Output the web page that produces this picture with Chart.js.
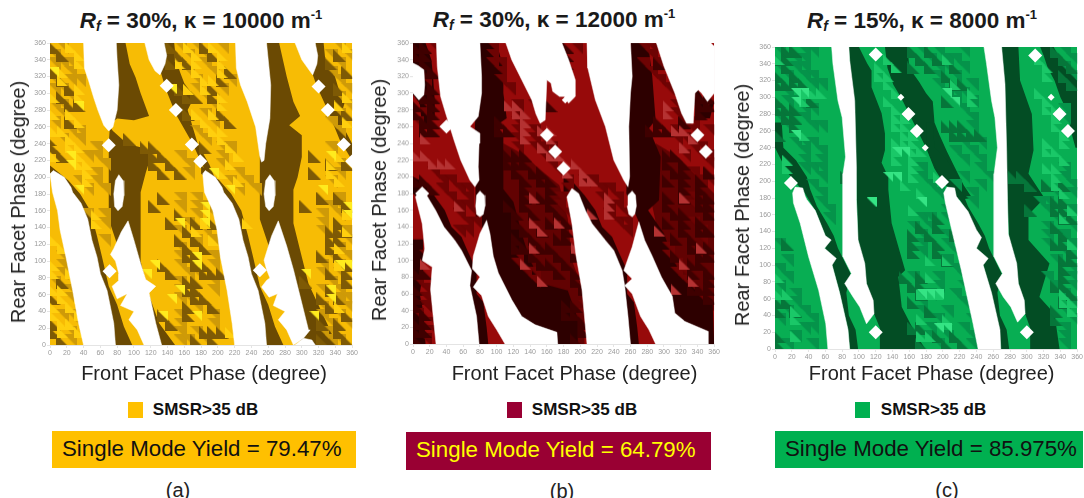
<!DOCTYPE html>
<html>
<head>
<meta charset="utf-8">
<script src="https://cdn.jsdelivr.net/npm/chart.js@4"></script>
<style>
    html, body { margin: 0; padding: 0; background: #fff; overflow: hidden; }
    body { width: 1084px; height: 498px; position: relative; font-family: "Liberation Sans", Arial, sans-serif; color: #222; }
    canvas { position: absolute; filter: blur(0.55px); }
    .txt { position: absolute; white-space: nowrap; line-height: 1; }
    .title { font-weight: bold; font-size: 22.5px; color: #1a1a1a; }
    .title sub { font-size: 14px; vertical-align: -3px; line-height: 0; font-style: italic; }
    .title sup { font-size: 13px; vertical-align: 9px; line-height: 0; }
    .axis { font-size: 20px; }
    .rot { transform: translate(-50%, -50%) rotate(-90deg); }
    .mid { transform: translate(-50%, -50%); }
    .swatch { position: absolute; width: 15px; height: 16px; }
    .legend { font-weight: bold; font-size: 17px; color: #111; }
    .box { position: absolute; box-sizing: border-box; font-size: 22.3px; line-height: 36px; padding-left: 10px; white-space: nowrap; }
</style>
</head>
<body>
<script>
// Phase axes
const phaseMin = 0;
const phaseMax = 360;
const phaseStep = 20;

// ---- (a) Rf = 30%, kappa = 10000 ----
const aGaps = [
    [[40,360],[41,330],[46,315],[52,295],[57,280],[64,262],[70,255],[75,260],[80,280],[82,310],[80,340],[79,360]],
    [[113,360],[118,340],[125,327],[131,322],[137,335],[139,345],[136,360]],
    [[221,360],[222,330],[227,310],[235,290],[245,260],[250,225],[252,218],[255,220],[257,240],[262,270],[263,310],[258,360]],
    [[292,360],[300,340],[310,326],[313,322],[318,335],[319,345],[316,360]],
    [[0,204],[4,208],[17,200],[25,188],[27,182],[37,169],[45,150],[50,125],[56,105],[60,85],[68,65],[76,26],[78,0],[40,0],[34,26],[27,65],[19,105],[12,137],[9,160],[3,182]],
    [[93,148],[85,135],[76,115],[72,108],[78,100],[82,85],[82,77],[74,70],[80,55],[92,61],[84,47],[100,40],[94,30],[104,18],[112,0],[133,0],[126,26],[120,53],[118,62],[126,70],[114,78],[108,97],[100,125]],
    [[182,204],[185,208],[197,200],[205,188],[207,182],[217,169],[225,150],[230,125],[236,105],[240,85],[248,65],[256,26],[258,0],[220,0],[217,26],[211,65],[203,105],[199,137],[194,160],[184,182]],
    [[272,148],[264,130],[255,101],[258,90],[262,80],[258,77],[252,69],[261,57],[271,61],[266,47],[280,40],[272,30],[282,18],[290,0],[302,8],[310,18],[308,18],[300,50],[290,90],[282,118]],
    [[292,0],[302,8],[312,6],[316,0]],
    [[82,203],[87,196],[88,178],[86,165],[81,160],[77,165],[76,180],[78,196]],
    [[262,203],[267,196],[268,178],[266,165],[261,160],[257,165],[255,180],[257,196]]
];
const aDiamonds = [[70,238],[139,309],[150,280],[169,239],[179,219],[71,88],[250,89],[320,308],[331,280],[350,239],[360,219]];
const aSmallDiamonds = [];
const aDarkBands = [
    [[78,360],[90,360],[95,335],[102,319],[108,300],[118,273],[100,268],[80,270],[70,262],[75,255],[92,240],[110,235],[120,224],[114,205],[108,182],[108,100],[116,65],[130,26],[149,0],[120,0],[70,150],[70,240]],
    [[258,360],[273,360],[282,320],[290,290],[298,273],[285,262],[300,250],[300,224],[295,200],[290,185],[290,145],[298,113],[308,73],[330,26],[342,0],[300,0],[250,150],[250,260]],
    [[136,360],[148,360],[150,340],[155,325],[160,312],[172,296],[164,280],[170,260],[176,240],[190,215],[200,190],[186,205],[170,240],[150,275],[138,305],[132,325]],
    [[316,360],[326,360],[328,340],[338,325],[344,305],[352,292],[347,275],[352,255],[360,240],[360,220],[345,245],[330,282],[318,308],[312,325]],
    [[0,214],[10,206],[22,196],[36,180],[48,160],[56,130],[62,105],[70,70],[80,48],[88,22],[98,0],[78,0],[60,70],[40,150],[20,190],[0,204]],
    [[180,214],[190,206],[202,196],[216,180],[228,160],[236,130],[242,105],[250,70],[260,48],[268,22],[278,0],[258,0],[240,70],[220,150],[200,190],[180,204]]
];
const aShadeBands = [];
const aDeepTris = [[355,[5,145,185]],[345,[15,155,195,345]],[335,[145,165,335]],[325,[5,215,355]],[315,[15,205]],[305,[25,155,195,345]],[295,[15,165,175,195]],[285,[25,35]],[275,[165,205,355]],[265,[25,215]],[245,[0,95]],[235,[5,115,125,185]],[225,[15,125,135,315]],[215,[125,145,335,355]],[205,[135,155,315]],[175,[135,325,345]],[165,[125,305,355]],[155,[155,215]],[145,[145,175,195,345]],[135,[165,335,345,355]],[125,[155,175,335,345]],[115,[165,185,335]],[105,[165,175,325,345]],[95,[135,175,185,355]],[85,[145,185,195,205,335,355]],[75,[15,165,175,305,355]],[65,[165,175,335]],[55,[5,175,185,325,345]],[45,[165,195,335]],[35,[135,165,355]],[25,[5,145,325,345]],[15,[5,185,195,205,345]],[5,[15,175,195,325,355]]];
const aMidTris = [[355,[15,155,175,205,345]],[345,[5,165,185,335,355]],[335,[5,15,25,185,345]],[325,[25,165,195,335]],[315,[5,25,35,175,215,345]],[305,[5,15,175,205,355]],[295,[25,185,345]],[285,[5,15,195,355]],[275,[15,185,345]],[265,[5,195,335]],[255,[25,35,175,345]],[245,[15,35,185]],[235,[55,205,215,335]],[225,[45,55,155,205]],[215,[65,165,205,345]],[205,[55,165,225,345]],[195,[35,55,215,235,335]],[185,[45,65,225,245]],[175,[155,175,195,345]],[165,[155,175,185,335,345]],[155,[45,65,175,195,325,345]],[145,[65,165,205,325]],[135,[155,185,325,355]],[125,[65,175,195,355]],[115,[155,205,345]],[105,[15,155,195,335,355]],[95,[15,155,195,325,345]],[85,[15,165,175,325,345]],[75,[5,155,195,335]],[65,[25,155,195,325,345]],[55,[25,155,165,345,355]],[45,[35,175,325,355]],[35,[15,25,155,195,325,345]],[25,[35,155,195,335,355]],[15,[25,155,175,325,335]],[5,[25,155,165,185,335,345]]];
const aLightTris = [[355,[25,165,195,355]],[345,[35,175,205]],[335,[35,155,175,205]],[325,[15,175,205]],[315,[15,185,195]],[305,[35,165,185]],[295,[5,35,205,355]],[285,[205,345]],[275,[5,25,175,195]],[265,[35,185,355]],[255,[5,15,195,205]],[245,[25,205]],[235,[25,35,215]],[225,[5,35,225,345]],[215,[35,45,215,335]],[205,[45,205,335]],[195,[45,225,345]],[155,[55,205,355]],[145,[55,185,235]],[135,[175,355]],[125,[5,195]],[115,[15,345]],[95,[5,345]],[85,[5,25]],[65,[5,15]],[55,[15,35]],[45,[5,25,345]],[35,[5,35]],[25,[15,25]],[15,[15,35,215]]];
const aBrightTris = [[325,[5]],[305,[145]],[285,[35]],[225,[25,335]],[215,[25]],[205,[195]],[185,[35,215,325]],[165,[185,355]],[155,[185,355]],[145,[155,185]],[105,[175]],[95,[125,175,345,355]],[85,[115,305]],[65,[155,335]],[55,[145,335]],[35,[135,175,315]]];

// ---- (b) Rf = 30%, kappa = 12000 ----
const bGaps = [
    [[28,360],[29,332],[33,296],[39,276],[49,244],[57,220],[68,196],[74,188],[79,196],[78,212],[79,240],[80,252],[68,260],[78,272],[82,300],[82,320],[80,360]],
    [[111,360],[118,340],[130,316],[142,292],[147,275],[152,264],[158,268],[160,316],[165,312],[167,302],[175,296],[181,296],[186,288],[194,296],[194,316],[186,340],[178,360]],
    [[208,360],[209,330],[218,292],[230,260],[240,220],[252,196],[257,188],[259,200],[258,260],[260,300],[262,320],[260,360]],
    [[291,360],[300,332],[313,300],[321,276],[327,264],[335,264],[337,300],[341,304],[345,300],[352,290],[360,300],[360,356],[356,360]],
    [[0,336],[6,333],[13,328],[14,310],[13,298],[7,292],[0,300]],
    [[3,176],[8,183],[15,180],[27,160],[37,140],[50,124],[58,112],[70,88],[68,70],[76,33],[79,0],[27.5,0],[25,25],[21,65],[23,92],[11,100],[14,114],[11,144],[7,160]],
    [[88,148],[80,132],[72,105],[71,90],[80,80],[72,68],[82,58],[90,33],[100,17],[110,0],[173,0],[172,14],[146,23],[130,33],[118,53],[102,85],[96,105],[92,132]],
    [[80,183],[85,178],[86,165],[84,155],[80,152],[76,155],[75,165],[76,178]],
    [[262,183],[266,178],[267,165],[265,155],[262,152],[258,155],[256,165],[257,178]],
    [[184,176],[190,186],[198,180],[206,160],[214,144],[230,124],[240,112],[250,88],[253,70],[257,33],[260,0],[208,0],[202,65],[195,105],[190,144]],
    [[270,146],[262,116],[252,88],[262,78],[253,70],[262,60],[272,33],[282,17],[290,0],[353,0],[353,15],[325,27],[313,37],[310,57],[297,80],[286,105],[277,124]]
];
const bDiamonds = [[40,260],[160,250],[170,230],[180,210],[340,250],[350,230],[11,180]];
const bSmallDiamonds = [[182,292]];
const bDarkBands = [
    [[0,360],[15,360],[22,340],[24,320],[26,290],[26,272],[15,262],[10,270],[8,288],[0,298]],
    [[78,360],[100,360],[108,330],[108,300],[112,270],[100,262],[108,250],[108,215],[108,185],[120,170],[130,132],[140,100],[155,72],[185,64],[197,30],[197,0],[172,0],[120,0],[90,130],[75,150],[74,260]],
    [[260,360],[281,360],[286,320],[290,268],[282,258],[296,224],[294,172],[281,160],[300,132],[310,105],[321,80],[337,65],[358,53],[360,0],[300,0],[270,146],[255,180],[258,300]],
    [[0,125],[12,125],[12,85],[8,60],[12,40],[15,0],[0,0]],
    [[0,200],[10,195],[25,178],[38,160],[46,140],[58,128],[65,112],[76,88],[76,60],[84,50],[88,20],[90,0],[78,0],[60,70],[40,130],[20,160],[0,180]],
    [[180,200],[190,195],[205,178],[218,160],[226,140],[238,128],[245,112],[256,88],[256,60],[264,50],[268,20],[270,0],[258,0],[240,70],[220,130],[200,160],[180,180]],
    [[150,360],[165,360],[165,340],[160,320],[150,310],[150,300],[148,290]],
    [[337,310],[345,296],[352,285],[360,290],[355,270],[340,270]]
];
const bShadeBands = [
    [[108,240],[135,225],[150,210],[175,190],[185,150],[190,100],[205,60],[205,0],[150,0],[120,60],[105,130]],
    [[290,240],[315,225],[330,210],[350,190],[360,180],[360,40],[330,50],[300,100],[285,170]]
];
const bDeepTris = [[355,[5,15,185]],[345,[5,15,175,185]],[335,[15,175,185,295]],[325,[15,25,175]],[305,[15,25]],[295,[15,25,335,345,355]],[285,[5,25,165,345,355]],[275,[5,25,345]],[265,[15,25,105,295,325]],[255,[15,25,105,115,285,295,305]],[225,[115,125,135,305,315]],[215,[115,125,135,305,325]],[205,[125,145,155,315,325,355]],[195,[5,15,135,155,165,305,325,345]],[185,[15,25,135,165,325,345]],[175,[135,155,165,305,325,345,355]],[165,[115,135,165,305,345,355]],[155,[125,145,175,315,325,355]],[145,[125,165,185,305,325,345]],[135,[135,155,185,325,345,355]],[125,[125,145,175,185,315,335]],[115,[125,135,155,165,335,345,355]],[105,[145,175,195,315,345,355]],[95,[155,165,185,335,345]],[85,[5,15,175,195,335,355]],[75,[195,355]],[65,[5,205,335,345,355]],[55,[5,355]],[45,[5,185,195]],[35,[15,185,195]],[25,[5,15,205]],[15,[5,15,205]],[5,[5,195]]];
const bMidTris = [[355,[25,95,195,275,285]],[345,[95,285]],[335,[95,105,275,295]],[325,[105,285]],[315,[15,105,295]],[305,[115,305]],[285,[15,125,145,315,335]],[275,[15,125,315,325]],[265,[5,125,325,335]],[255,[125,145,315,335,355]],[245,[125,145,155,315,325]],[235,[125,145,155,165,335,345]],[225,[155,165,325,345,355]],[215,[165,355]],[205,[25,175,335]],[195,[35,45,185,205,215,345,355]],[185,[35,55,65,185,225,235]],[175,[45,65,175,185,225,245,335]],[165,[55,65,175,235,245,335]],[155,[55,75,185,235,255]],[145,[65,75,195,245,255,335]],[135,[55,65,195,255,345]],[125,[205,345]],[115,[205,305]],[105,[15,125,205,305]],[95,[125,205,315]],[85,[135,145,205,315,325]],[75,[5,145,215,325]],[65,[15,215]],[55,[15,215,345]],[45,[15,205]],[35,[5,205]],[25,[25,215]],[15,[25]],[5,[15]]];
const bLightTris = [[285,[115,125,305]],[275,[125,135,305]],[265,[135]],[255,[135,155,165,315,325]],[245,[15,135,165,335]],[235,[155,325]],[225,[5,15,165,175]],[215,[25,35,45,185,195]],[205,[185,205]],[195,[205,215]],[175,[145,235,325]],[165,[55,235]],[155,[215,235]],[145,[145,175]],[135,[155,295]],[115,[145,195,345]],[95,[15,135,325]],[75,[155,285,335]],[65,[315]],[55,[285]]];
const bBrightTris = [];

// ---- (c) Rf = 15%, kappa = 8000 ----
const cGaps = [
    [[67.5,360],[69,340],[75,296],[80,276],[84,229],[81,209],[81,110],[91,90],[83,78],[93,62],[101,50],[109,30],[118,42],[117,58],[109,78],[107,102],[99,130],[97,178],[97,217],[95,296],[89,344],[88,360]],
    [[249,360],[252,340],[258,296],[262,276],[265,240],[261,209],[261,110],[271,90],[263,78],[272,62],[281,50],[289,32],[298,42],[297,58],[290,78],[288,102],[278,137],[277,178],[276,237],[274,316],[270,360]],
    [[21,186],[24,193],[33,192],[36,182],[38,178],[48,165],[60,135],[67,130],[59,120],[73,108],[68,100],[77,67],[87,23],[89,0],[63,0],[60.5,30],[52,70],[40,110],[30,150],[22,174]],
    [[201,186],[205,193],[214,192],[216,182],[219,178],[230,164],[240,142],[246,133],[240,120],[254,108],[248,100],[258,67],[268,23],[269,0],[242,0],[236,30],[222,94],[211,140],[203,174]]
];
const cDiamonds = [[19,198],[120,351],[310,350],[159,280],[169,260],[199,199],[339,280],[349,260],[120,20],[300,20]];
const cSmallDiamonds = [[150,300],[179,240],[329,300]];
const cDarkBands = [
    [[88,360],[100,360],[110,340],[115,332],[115,312],[127,281],[131,257],[131,237],[127,222],[135,205],[135,190],[139,150],[155,94],[147,86],[151,50],[167,19],[179,0],[125,0],[125,25],[118,42],[109,78],[99,130],[97,200]],
    [[131,360],[158,360],[160,335],[172,318],[180,305],[188,295],[190,270],[196,255],[205,235],[215,215],[225,195],[235,180],[219,178],[200,199],[190,215],[180,240],[170,260],[160,280],[150,300],[141,315],[134,335]],
    [[0,270],[8,270],[10,240],[25,225],[38,205],[42,190],[50,170],[62,150],[70,135],[75,120],[90,90],[85,67],[88,40],[96,23],[99,0],[89,0],[87,23],[77,67],[68,100],[60,120],[60,135],[48,165],[36,185],[15,210],[0,240]],
    [[270,360],[290,360],[292,320],[306,280],[308,237],[302,209],[321,180],[302,160],[302,130],[327,102],[315,62],[333,42],[339,0],[304,0],[304,25],[298,42],[290,78],[279,130],[277,178]],
    [[316,360],[320,350],[325,335],[333,320],[340,300],[350,280],[352,262],[358,240],[360,240],[360,320],[345,340],[340,345],[332,360]],
    [[180,270],[188,270],[190,240],[205,225],[218,205],[222,190],[230,170],[242,150],[250,135],[255,120],[270,90],[265,67],[268,40],[276,23],[279,0],[269,0],[267,23],[257,67],[248,100],[240,120],[240,135],[228,165],[216,185],[195,210],[180,240]]
];
const cShadeBands = [];
const cDeepTris = [[355,[15,25,165,185,335]],[345,[5,15,175,195,345]],[335,[15,165,185,215,355]],[325,[5,25,205,345]],[315,[5,15,25,35,215,225,355]],[295,[5,45,205]],[285,[5,15,25]],[275,[15,25]],[265,[25,205,215,225]],[255,[5,215,225,235,245]],[205,[85,285,295]],[195,[305,325,345]],[175,[335,345]],[165,[305,335,345]],[155,[195,345,355]],[145,[175,195,335]],[135,[165,185,215,345]],[125,[15,165,195,335,345]],[115,[165,195,355]],[105,[205,345,355]],[95,[345]],[85,[155,175,345]],[75,[165,175,335,345]],[65,[175,355]],[55,[5,15,165,345]],[45,[5,25,185,335]],[35,[335]],[25,[165,175]],[15,[5,195,215]],[5,[5,175,205,225]]];
const cMidTris = [[355,[5,35,45,175,195,225,345]],[345,[25,35,185,205,215,355]],[335,[5,25,35,195,205,225,345]],[325,[15,35,45,195,215,355]],[315,[45,55,195,235]],[305,[15,25,205,215,225]],[295,[15,25,215,235]],[285,[35,45,225,345]],[275,[5,35,235,345]],[265,[15,45,55,235]],[245,[25,35,45,225,245]],[235,[35,55,215,235]],[225,[35,55,225,245]],[215,[35,45,55,175,245,345]],[205,[55,175,225,255,345]],[195,[45,185,215,245,355]],[185,[55,195,235,335,355]],[175,[55,205,235,315,325]],[165,[65,205,325,355]],[155,[65,175,185,205,335]],[145,[165,185,215,325,355]],[135,[175,205,325,345]],[125,[5,175,205,325,355]],[115,[175,215,345]],[105,[15,205,225,335]],[95,[5,215,225,355]],[85,[15,165,195,225,325,355]],[75,[5,195,225,335,355]],[65,[25,185,215,345]],[55,[25,175,225,355]],[45,[15,35,175,205,345]],[35,[5,45,195,235,355]],[25,[35,45,185,225,345]],[15,[25,185,205,235,345]],[5,[15,45,195,235,345]]];
const cLightTris = [[345,[5,135,205,315]],[335,[125,145,325]],[325,[125,135,325]],[315,[135,215]],[305,[35,45,55,145,235,315]],[295,[35,135,235,325]],[285,[145,325,335]],[275,[145,155,335]],[265,[145,155,335]],[255,[35,155,165,345]],[245,[145,155,165,325,345]],[235,[145,165,175,325,335]],[225,[15,145,165,345]],[215,[15,165,325,335]],[205,[165,195,335]],[195,[155,335]],[185,[175,345]],[165,[165,355]],[155,[215,345]],[125,[355]],[105,[205,185]],[85,[5,185]],[65,[5,15,175,185,195,345]],[55,[345,355]],[45,[25,355]],[35,[25,175,205]],[15,[25,175,185]]];
const cBrightTris = [[305,[25,35,205]],[295,[25,215]],[255,[25]],[235,[145,155]],[205,[135,145]],[175,[115,175]],[65,[175,185,195]],[25,[195,205]]];

// Panel colours and page layout, data arrays stay above
const panels = [
    { id: 'a', left: 49.5, top: 42.5, width: 302.5, height: 302.5, gaps: aGaps, diamonds: aDiamonds, smallDiamonds: aSmallDiamonds, darkBands: aDarkBands, shadeBands: aShadeBands,
      deep: aDeepTris, mid: aMidTris, light: aLightTris, bright: aBrightTris,
      colors: { base: '#F7BC05', dark: '#6B4A03', deep: '#7E5A05', mid: '#CE9A08', light: '#FFCF0E', bright: '#FFEB1E', shade: '#CE9A08' } },
    { id: 'b', left: 412.7, top: 43.3, width: 301.3, height: 300.7, gaps: bGaps, diamonds: bDiamonds, smallDiamonds: bSmallDiamonds, darkBands: bDarkBands, shadeBands: bShadeBands,
      deep: bDeepTris, mid: bMidTris, light: bLightTris, bright: bBrightTris,
      colors: { base: '#970A0A', dark: '#2D0000', deep: '#3F0000', mid: '#6E0303', light: '#B53232', bright: '#C94848', shade: '#620202' } },
    { id: 'c', left: 775, top: 46.7, width: 302.3, height: 302.3, gaps: cGaps, diamonds: cDiamonds, smallDiamonds: cSmallDiamonds, darkBands: cDarkBands, shadeBands: cShadeBands,
      deep: cDeepTris, mid: cMidTris, light: cLightTris, bright: cBrightTris,
      colors: { base: '#08AE53', dark: '#034D24', deep: '#06763A', mid: '#05934A', light: '#1AC868', bright: '#35E484', shade: '#05934A' } }
];

function flattenRows(rows) {
    const points = [];
    rows.forEach(row => {
        row[1].forEach(front => points.push({ x: front, y: row[0] }));
    });
    return points;
}

// Half-cell triangle used as the point image
function triangleImage(color, corner, size) {
    const c = document.createElement('canvas');
    c.width = size;
    c.height = size;
    const g = c.getContext('2d');
    g.fillStyle = color;
    g.beginPath();
    if (corner === 'low') {
        g.moveTo(0, 0); g.lineTo(size, size); g.lineTo(0, size);
    } else {
        g.moveTo(0, 0); g.lineTo(size, 0); g.lineTo(size, size);
    }
    g.closePath();
    g.fill();
    return c;
}

function polygonDataset(points, color) {
    const closed = points.concat([points[0]]);
    return {
        type: 'scatter',
        data: closed.map(p => ({ x: p[0], y: p[1] })),
        showLine: true,
        fill: 'shape',
        backgroundColor: color,
        borderColor: color,
        borderWidth: color === '#ffffff' ? 0.5 : 0,
        tension: 0,
        pointRadius: 0
    };
}

function markDataset(rows, image) {
    return {
        type: 'scatter',
        data: flattenRows(rows),
        showLine: false,
        pointStyle: image,
        pointRadius: 6,
        pointBorderWidth: 0
    };
}

function diamondDataset(points, radius) {
    return {
        type: 'scatter',
        data: points.map(p => ({ x: p[0], y: p[1] })),
        showLine: false,
        pointStyle: 'rectRot',
        pointRadius: radius,
        pointBackgroundColor: '#ffffff',
        pointBorderColor: '#ffffff',
        pointBorderWidth: 0,
        clip: false
    };
}

function createPanel(panel) {
    const marginLeft = 40, marginTop = 6, marginRight = 6.7, marginBottom = 16;
    const canvas = document.createElement('canvas');
    canvas.style.left = (panel.left - marginLeft) + 'px';
    canvas.style.top = (panel.top - marginTop) + 'px';
    canvas.style.width = (panel.width + marginLeft + marginRight) + 'px';
    canvas.style.height = (panel.height + marginTop + marginBottom) + 'px';
    canvas.width = panel.width + marginLeft + marginRight;
    canvas.height = panel.height + marginTop + marginBottom;
    document.body.appendChild(canvas);

    const col = panel.colors;
    const square = [[phaseMin, phaseMin], [phaseMax, phaseMin], [phaseMax, phaseMax], [phaseMin, phaseMax]];
    let layers = [polygonDataset(square, col.base)];
    panel.shadeBands.forEach(b => layers.push(polygonDataset(b, col.shade)));
    panel.darkBands.forEach(b => layers.push(polygonDataset(b, col.dark)));
    layers.push(markDataset(panel.mid, triangleImage(col.mid, 'high', 13)));
    layers.push(markDataset(panel.deep, triangleImage(col.deep, 'low', 13)));
    layers.push(markDataset(panel.light, triangleImage(col.light, 'low', 11)));
    layers.push(markDataset(panel.bright, triangleImage(col.bright, 'high', 10)));
    panel.gaps.forEach(g => layers.push(polygonDataset(g, '#ffffff')));
    layers.push(diamondDataset(panel.diamonds, 7));
    layers.push(diamondDataset(panel.smallDiamonds, 3.5));
    // first dataset is painted last in Chart.js
    layers.reverse();

    const tickStyle = { color: '#9a9a9a', font: { size: 7, family: '"Liberation Sans"' }, stepSize: phaseStep, autoSkip: false, maxRotation: 0, minRotation: 0, padding: 1 };
    new Chart(canvas.getContext('2d'), {
        type: 'scatter',
        data: { datasets: layers },
        options: {
            responsive: false,
            animation: false,
            events: [],
            layout: { autoPadding: false, padding: { top: marginTop, right: marginRight, left: 0, bottom: 0 } },
            plugins: { legend: { display: false }, tooltip: { enabled: false }, title: { display: false } },
            scales: {
                x: {
                    type: 'linear', min: phaseMin, max: phaseMax,
                    ticks: tickStyle,
                    grid: { drawOnChartArea: false, tickLength: 3, color: '#e4e4e4' },
                    border: { color: '#e4e4e4' },
                    afterFit: s => { s.height = marginBottom; }
                },
                y: {
                    type: 'linear', min: phaseMin, max: phaseMax,
                    ticks: tickStyle,
                    grid: { drawOnChartArea: false, tickLength: 3, color: '#e4e4e4' },
                    border: { color: '#e4e4e4' },
                    afterFit: s => { s.width = marginLeft; }
                }
            }
        }
    });
}

panels.forEach(createPanel);

// Text around the plots
function addText(cls, html, x, y) {
    const el = document.createElement('div');
    el.className = 'txt ' + cls;
    el.innerHTML = html;
    el.style.left = x + 'px';
    el.style.top = y + 'px';
    document.body.appendChild(el);
}
function addBox(text, left, top, width, height, bg, fg) {
    const el = document.createElement('div');
    el.className = 'box';
    el.textContent = text;
    el.style.cssText += `left:${left}px;top:${top}px;width:${width}px;height:${height}px;background:${bg};color:${fg};`;
    document.body.appendChild(el);
}
function addSwatch(left, color) {
    const el = document.createElement('div');
    el.className = 'swatch';
    el.style.left = left + 'px';
    el.style.top = '402px';
    el.style.background = color;
    document.body.appendChild(el);
}

addText('title mid', '<i>R<sub>f</sub></i> = 30%, κ = 10000 m<sup>-1</sup>', 201, 21);
addText('title mid', '<i>R<sub>f</sub></i> = 30%, κ = 12000 m<sup>-1</sup>', 554, 20);
addText('title mid', '<i>R<sub>f</sub></i> = 15%, κ = 8000 m<sup>-1</sup>', 922, 21);

addText('axis mid', 'Front Facet Phase (degree)', 204, 373);
addText('axis mid', 'Front Facet Phase (degree)', 574.5, 373);
addText('axis mid', 'Front Facet Phase (degree)', 931.7, 373);
addText('axis rot', 'Rear Facet Phase (degree)', 18, 202);
addText('axis rot', 'Rear Facet Phase (degree)', 379, 200);
addText('axis rot', 'Rear Facet Phase (degree)', 742, 205);

addSwatch(128, '#FFC000');
addSwatch(507, '#990033');
addSwatch(855, '#00B050');
addText('legend mid', 'SMSR&gt;35 dB', 205.5, 409);
addText('legend mid', 'SMSR&gt;35 dB', 584.5, 409);
addText('legend mid', 'SMSR&gt;35 dB', 933.5, 409);

addBox('Single Mode Yield = 79.47%', 52, 431, 304, 37, '#FFC000', '#111111');
addBox('Single Mode Yield = 64.79%', 406, 432, 305, 38, '#990033', '#FFFF00');
addBox('Single Mode Yield = 85.975%', 775, 431, 308, 37, '#00B050', '#111111');

addText('axis mid', '(a)', 178, 490);
addText('axis mid', '(b)', 562, 491);
addText('axis mid', '(c)', 947, 490);
</script>
</body>
</html>
